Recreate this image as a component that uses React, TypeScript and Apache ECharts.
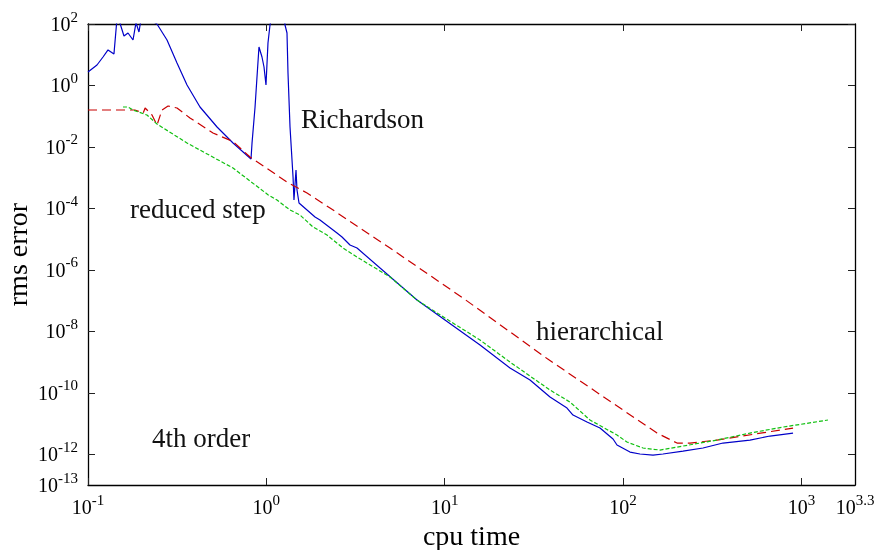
import React, { useEffect, useRef } from 'react';
import * as echarts from 'echarts';

const FONT = '"Liberation Serif", "Times New Roman", serif';

// tick positions (log10 of the axis values)
const xTickVals = [-1, 0, 1, 2, 3];
const xLabelVals = [-1, 0, 1, 2, 3, 3.3];
const yTickVals = [-12, -10, -8, -6, -4, -2, 0, 2];
const yLabelVals = [-13, -12, -10, -8, -6, -4, -2, 0, 2];

// [cpu time, rms error]
const richardson: [number, number][] = [
  [0.1, 2.74], [0.1123, 4.63], [0.1214, 8.44], [0.1295, 14.3], [0.1398, 10.6], [0.146, 200],
  [0.1591, 40.7], [0.1676, 50.9], [0.1788, 30.2], [0.1858, 110], [0.1931, 54.9], [0.2, 200],
  [0.2436, 100], [0.2773, 30.2], [0.3155, 5.38], [0.359, 1.035], [0.4245, 0.1991], [0.529, 0.0445],
  [0.65, 0.0134], [0.82, 0.00405], [0.831, 0.0134], [0.864, 0.1991], [0.886, 1.885], [0.909, 17.8],
  [0.945, 8.44], [0.97, 3.99], [0.995, 1.035], [1.021, 24.1], [1.048, 92.8], [1.08, 200], [1.255, 200],
  [1.272, 92.8], [1.305, 50.9], [1.322, 2.54], [1.357, 0.0445], [1.411, 0.00105], [1.428, 1.87e-4],
  [1.466, 0.00177], [1.485, 3.96e-4], [1.524, 1.5e-4], [1.874, 5.24e-5], [1.998, 4.18e-5],
  [2.489, 1.58e-5], [2.655, 1.17e-5], [2.943, 6.43e-6], [3.222, 5.14e-6], [6.99, 1.04e-7],
  [10.03, 2.33e-8], [15.77, 3.58e-9], [23.22, 6.39e-10], [30.06, 2.6e-10], [38.92, 7.28e-11],
  [48.47, 3.19e-11], [52.36, 1.89e-11], [62.73, 1.12e-11], [74.2, 7.13e-12], [87.8, 3.13e-12],
  [92.4, 2.0e-12], [109.3, 1.18e-12], [124.3, 1.02e-12], [147.1, 9.44e-13], [167.3, 1.02e-12],
  [216.7, 1.27e-12], [280.5, 1.6e-12], [363.1, 2.32e-12], [514.5, 2.9e-12], [666, 3.92e-12],
  [896.7, 4.9e-12],
];

const reducedStep: [number, number][] = [
  [0.157, 0.1991], [0.1676, 0.1991], [0.1788, 0.159], [0.214, 0.1093], [0.2436, 0.0557],
  [0.359, 0.0134], [0.65, 0.00206], [1.02, 2.8e-4], [1.147, 1.87e-4], [1.357, 8.86e-5],
  [1.544, 6.09e-5], [1.826, 2.48e-5], [2.187, 1.36e-5], [2.689, 5.14e-6], [3.222, 2.62e-6],
  [4.933, 5.85e-7], [6.99, 1.04e-7], [10.03, 2.71e-8], [15.77, 5.21e-9], [23.22, 1.0e-9],
  [38.92, 1.23e-10], [50.38, 5.0e-11], [65.21, 1.3e-11], [92.4, 4.22e-12], [105.1, 2.5e-12],
  [129.3, 1.6e-12], [161.0, 1.37e-12], [216.7, 1.85e-12], [336, 2.9e-12], [514.5, 4.9e-12],
  [787.8, 7.67e-12], [1408, 1.3e-11],
];

const hierarchical: [number, number][] = [
  [0.1, 0.159], [0.157, 0.159], [0.183, 0.159], [0.204, 0.127], [0.209, 0.1847], [0.2285, 0.1093],
  [0.2436, 0.0517], [0.26, 0.159], [0.281, 0.2146], [0.3155, 0.1847], [0.373, 0.0873],
  [0.502, 0.0284], [0.65, 0.015], [0.81, 0.0047], [1.305, 7.22e-4], [1.69, 3.17e-4],
  [2.274, 1.03e-4], [4.933, 5.14e-6], [12.66, 1.21e-7], [37.45, 1.3e-9], [154.9, 4.9e-12],
  [200.5, 2.32e-12], [237.1, 2.32e-12], [336, 2.9e-12], [896.7, 7.13e-12],
];

const annotations = [
  { text: 'Richardson', x: 301, y: 119 },
  { text: 'reduced step', x: 130, y: 209 },
  { text: 'hierarchical', x: 536, y: 331 },
  { text: '4th order', x: 152, y: 438 },
];

export default function App() {
  const ref = useRef<HTMLDivElement>(null);
  useEffect(() => {
    const chart = echarts.init(ref.current!, null, { renderer: 'svg' });
    const toLog = (d: [number, number][]) => d.map(([x, y]) => [Math.log10(x), Math.log10(y)]);
    const fmt = (v: number) => `{b|10}{s|${String(Math.round(v * 10) / 10)}}`;
    const rich = {
      b: { fontFamily: FONT, fontSize: 20, color: '#000', lineHeight: 30 },
      s: { fontFamily: FONT, fontSize: 15, color: '#000', verticalAlign: 'top', lineHeight: 15 },
    };
    const axisLine = { show: true, onZero: false, lineStyle: { color: '#000', width: 1.3 } };
    const tickStyle = { color: '#222', width: 1 };
    const nameStyle = { fontFamily: FONT, fontSize: 28, color: '#000', lineHeight: 28 };
    chart.setOption({
      animation: false,
      textStyle: { fontFamily: FONT },
      grid: { left: 88, top: 24, width: 767, height: 461, containLabel: false, outerBoundsMode: 'none' },
      xAxis: [
        {
          type: 'value', min: -1, max: 3.3, position: 'bottom',
          axisLine, splitLine: { show: false },
          axisTick: { show: true, inside: true, length: 7, customValues: xTickVals, lineStyle: tickStyle },
          axisLabel: { customValues: xLabelVals, formatter: fmt, rich, margin: 7 },
          name: 'cpu time', nameLocation: 'middle', nameGap: 36, nameMoveOverlap: false, nameTextStyle: nameStyle,
        },
        {
          type: 'value', min: -1, max: 3.3, position: 'top',
          axisLine, splitLine: { show: false },
          axisTick: { show: true, inside: true, length: 7, customValues: xTickVals, lineStyle: tickStyle },
          axisLabel: { show: false },
        },
      ],
      yAxis: [
        {
          type: 'value', min: -13, max: 2, position: 'left',
          axisLine, splitLine: { show: false },
          axisTick: { show: true, inside: true, length: 7, customValues: yTickVals, lineStyle: tickStyle },
          axisLabel: { customValues: yLabelVals, formatter: fmt, rich, margin: 10 },
          name: 'rms error', nameLocation: 'middle', nameGap: 57, nameMoveOverlap: false, nameTextStyle: nameStyle,
        },
        {
          type: 'value', min: -13, max: 2, position: 'right',
          axisLine, splitLine: { show: false },
          axisTick: { show: true, inside: true, length: 7, customValues: yTickVals, lineStyle: tickStyle },
          axisLabel: { show: false },
        },
      ],
      series: [
        {
          name: 'Richardson', type: 'line', xAxisIndex: 0, yAxisIndex: 0, showSymbol: false, clip: true,
          data: toLog(richardson), lineStyle: { color: '#0000c8', width: 1.2 },
        },
        {
          name: 'hierarchical', type: 'line', xAxisIndex: 0, yAxisIndex: 0, showSymbol: false, clip: true,
          data: toLog(hierarchical), lineStyle: { color: '#c80000', width: 1.2, type: [9, 5] },
        },
        {
          name: 'reduced step', type: 'line', xAxisIndex: 0, yAxisIndex: 0, showSymbol: false, clip: true,
          data: toLog(reducedStep), lineStyle: { color: '#10c010', width: 1.2, type: [4, 2] },
        },
      ],
      graphic: annotations.map((a) => ({
        type: 'text', x: a.x, y: a.y,
        style: { text: a.text, fontFamily: FONT, fontSize: 27, fill: '#111', verticalAlign: 'middle' },
      })),
    });
    return () => chart.dispose();
  }, []);
  return <div ref={ref} style={{ position: 'fixed', left: 0, top: 0, width: 875, height: 550 }} />;
}
